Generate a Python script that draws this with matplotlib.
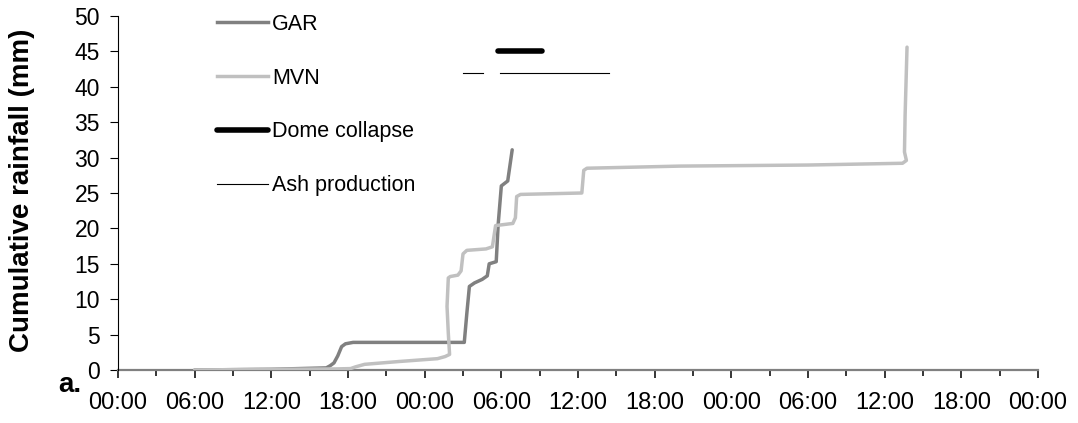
import matplotlib
matplotlib.use("Agg")
import matplotlib.pyplot as plt
from matplotlib.lines import Line2D
from matplotlib.ticker import MultipleLocator, FixedLocator

plt.rcParams['font.family'] = ['Liberation Sans', 'DejaVu Sans']

# time in hours since first 00:00, cumulative rainfall in mm
gar_hours = [6, 12, 16.3, 16.6, 16.9, 17.2, 17.5, 17.8, 18.4, 27.1, 27.3, 27.5,
             27.9, 28.5, 28.9, 29.05, 29.6, 29.75, 30.0, 30.5, 30.85]
gar_mm = [0, 0.1, 0.3, 0.6, 1.0, 2.0, 3.3, 3.7, 3.9, 3.9, 8.0, 11.8,
          12.3, 12.8, 13.3, 15.0, 15.3, 20.5, 26.0, 26.7, 31.1]

mvn_hours = [6, 12, 17, 18.2, 18.6, 19.0, 19.3, 22, 25.0, 25.6, 25.95, 25.85,
             25.75, 25.85, 26.0, 26.6, 26.85, 27.0, 27.3, 28.8, 29.3, 29.55,
             30.9, 31.1, 31.2, 31.5, 36.3, 36.45, 36.7, 44, 54, 61.4, 61.7,
             61.55, 61.6, 61.75]
mvn_mm = [0, 0.1, 0.15, 0.2, 0.45, 0.65, 0.8, 1.2, 1.6, 1.9, 2.2, 5.2,
          9.0, 13.0, 13.2, 13.4, 14.0, 16.4, 16.9, 17.1, 17.4, 20.4,
          20.7, 21.5, 24.5, 24.8, 25.0, 28.2, 28.5, 28.8, 28.95, 29.2, 29.6,
          30.8, 36.0, 45.6]

dome_hours = [29.75, 33.2]
dome_mm = 45
ash_periods = [(27.0, 28.6), (29.9, 38.4)]
ash_mm = 42

x_labels = ["00:00", "06:00", "12:00", "18:00"] * 3 + ["00:00"]

fig = plt.figure(figsize=(10.78, 4.23), dpi=100)
ax = fig.add_axes([118/1078, 1 - 370/423, 920/1078, 354/423])

ax.plot(gar_hours, gar_mm, color="#808080", lw=2.5, solid_capstyle="round",
        solid_joinstyle="round", zorder=3)
ax.plot(mvn_hours, mvn_mm, color="#c0c0c0", lw=2.5, solid_capstyle="round",
        solid_joinstyle="round", zorder=4)
ax.plot(dome_hours, [dome_mm, dome_mm], color="black", lw=4,
        solid_capstyle="round", zorder=5)
for a, b in ash_periods:
    ax.plot([a, b], [ash_mm, ash_mm], color="black", lw=0.8, zorder=5)

ax.set_xlim(0, 72)
ax.set_ylim(0, 50)
ax.yaxis.set_major_locator(MultipleLocator(5))
ax.xaxis.set_major_locator(FixedLocator(list(range(0, 73, 6))))
ax.xaxis.set_minor_locator(MultipleLocator(3))
ax.set_xticklabels(x_labels)

for s in ["top", "right"]:
    ax.spines[s].set_visible(False)
ax.spines["left"].set_linewidth(0.8)
ax.spines["bottom"].set_color("#808080")
ax.spines["bottom"].set_linewidth(1.6)
ax.spines["bottom"].set_zorder(2)

ax.tick_params(axis="y", direction="out", length=6, width=0.8, pad=7,
               labelsize=16.5, colors="black")
ax.tick_params(axis="x", which="major", direction="out", length=5.5, width=1.1,
               pad=10, labelsize=17)
ax.tick_params(axis="x", which="minor", direction="out", length=4, width=1.1)

ax.set_ylabel("Cumulative rainfall (mm)", fontsize=20, fontweight="bold")
ax.yaxis.label.set_verticalalignment("center")
ax.yaxis.set_label_coords((22 - 118) / 920, (370 - 190) / 354)
fig.text(70/1078, 1 - 385/423, "a.", fontsize=20, fontweight="bold",
         ha="center", va="center")

handles = [
    Line2D([], [], color="#808080", lw=2.5),
    Line2D([], [], color="#c0c0c0", lw=2.5),
    Line2D([], [], color="black", lw=4, solid_capstyle="round"),
    Line2D([], [], color="black", lw=0.8),
]
labels = ["GAR", "MVN", "Dome collapse", "Ash production"]
ax.legend(handles, labels, loc="upper left", frameon=False, fontsize=15.5,
          bbox_to_anchor=(217/1078, 1 - 14/423), bbox_transform=fig.transFigure,
          handlelength=2.35, handletextpad=0.22, labelspacing=1.52,
          borderpad=0, borderaxespad=0)

fig.savefig("out.png", dpi=100)
